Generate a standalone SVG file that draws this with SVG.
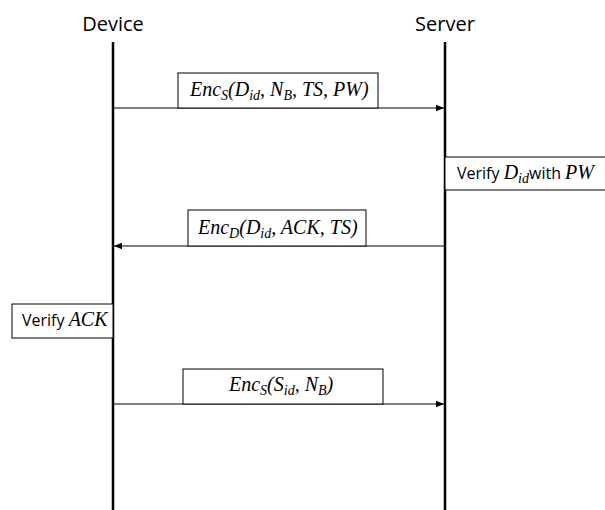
<svg xmlns="http://www.w3.org/2000/svg" width="605" height="510" viewBox="0 0 605 510">
<style>
.title{font-family:"Open Sans","Liberation Sans",sans-serif;font-size:20px;fill:#000}
.box{fill:#fff;stroke:#000;stroke-width:1}
.life{stroke:#000;stroke-width:2.5}
.msg{stroke:#000;stroke-width:1;fill:none}
.m{font-family:"Liberation Serif","DejaVu Serif",serif;font-style:italic;font-size:20px;fill:#000}
.s{font-family:"Open Sans","Liberation Sans",sans-serif;font-style:normal;font-size:16px;fill:#000}
.sub{font-size:14px}
</style>
<defs>
<marker id="ah" viewBox="0 0 10 10" refX="10" refY="5" markerWidth="8" markerHeight="8" markerUnits="userSpaceOnUse" orient="auto">
<path d="M0,1 L10,5 L0,9 z" fill="#000"/>
</marker>
</defs>
<rect width="605" height="510" fill="#fff"/>
<g id="device">
<text class="title" x="113" y="31" text-anchor="middle">Device</text>
<line class="life" x1="113" y1="42" x2="113" y2="510"/>
</g>
<g id="server">
<text class="title" x="445" y="31" text-anchor="middle">Server</text>
<line class="life" x1="445" y1="42" x2="445" y2="510"/>
</g>
<g id="connectors">
<line class="msg" x1="113" y1="108" x2="444" y2="108" marker-end="url(#ah)"/>
<line class="msg" x1="445" y1="246" x2="114" y2="246" marker-end="url(#ah)"/>
<line class="msg" x1="113" y1="404" x2="444" y2="404" marker-end="url(#ah)"/>
</g>
<g id="msg1">
<rect class="box" x="178" y="73" width="200" height="35"/>
<text class="m" x="190" y="96">Enc<tspan class="sub" dy="4">S</tspan><tspan dy="-4">(D</tspan><tspan class="sub" dy="4">id</tspan><tspan dy="-4">, N</tspan><tspan class="sub" dy="4">B</tspan><tspan dy="-4">, TS, PW)</tspan></text>
</g>
<g id="verify-did">
<rect class="box" x="445" y="157" width="165" height="33"/>
<text class="s" x="457" y="179">Verify <tspan class="m">D</tspan><tspan class="m sub" dy="4">id</tspan><tspan dy="-4">with </tspan><tspan class="m">PW</tspan></text>
</g>
<g id="msg2">
<rect class="box" x="188" y="210" width="178" height="36"/>
<text class="m" x="198" y="234">Enc<tspan class="sub" dy="4">D</tspan><tspan dy="-4">(D</tspan><tspan class="sub" dy="4">id</tspan><tspan dy="-4">, ACK, TS)</tspan></text>
</g>
<g id="verify-ack">
<rect class="box" x="12" y="304" width="101" height="34"/>
<text class="s" x="22" y="326">Verify <tspan class="m">ACK</tspan></text>
</g>
<g id="msg3">
<rect class="box" x="183" y="369" width="200" height="35"/>
<text class="m" x="229" y="391">Enc<tspan class="sub" dy="4">S</tspan><tspan dy="-4">(S</tspan><tspan class="sub" dy="4">id</tspan><tspan dy="-4">, N</tspan><tspan class="sub" dy="4">B</tspan><tspan dy="-4">)</tspan></text>
</g>
</svg>
